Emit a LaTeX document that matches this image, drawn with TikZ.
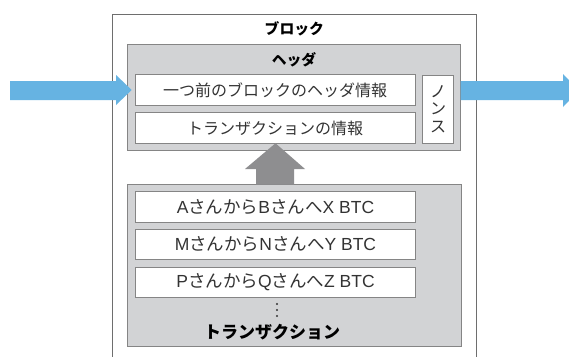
\documentclass[tikz,border=0pt]{standalone}
\usepackage{fontspec}
\setmainfont{Noto Sans CJK JP}
\newfontfamily\lat{Liberation Sans}
\definecolor{boxgray}{HTML}{D2D3D5}
\definecolor{boxline}{HTML}{858585}
\definecolor{frameline}{HTML}{6E6E6E}
\definecolor{arrowblue}{HTML}{66B3E2}
\definecolor{arrowgray}{HTML}{8E8E90}
\definecolor{txtcol}{HTML}{333333}
\begin{document}
\begin{tikzpicture}[x=1pt,y=-1pt,
  every node/.style={inner sep=0pt, outer sep=0pt},
  frame/.style={draw=frameline, line width=1pt},
  graybox/.style={draw=boxline, fill=boxgray, line width=1pt},
  whitebox/.style={draw=boxline, fill=white, line width=1pt},
  rowbox/.style={whitebox, minimum width=280pt, minimum height=30.5pt, txt},
  txt/.style={font=\fontsize{16}{18}\selectfont, text=txtcol},
  txrow/.style={rowbox, font=\fontsize{17.5}{19}\selectfont},
  ttl/.style={font=\fontsize{14.8}{17}\selectfont\bfseries, text=black}]
\useasboundingbox (0,0) rectangle (569,356);
\fill[white] (0,0) rectangle (569,356);
% outer block
\draw[frame] (112.7,358) -- (112.7,14.3) -- (476,14.3) -- (476,358);
\node[ttl] (blk) at (294.3,28.5) {ブロック};
% header
\node[graybox, minimum width=333pt, minimum height=106pt] (hdr) at (294.2,97.2) {};
\node[ttl] (hdrt) at (294,60) {ヘッダ};
\node[rowbox] (prev) at (275,90) {一つ前のブロックのヘッダ情報};
\node[rowbox] (txi) at (275,128) {トランザクションの情報};
\node[whitebox, minimum width=30.5pt, minimum height=68pt, txt, align=center,
      font=\fontsize{16}{17.5}\selectfont] (nonce) at (438.2,109) {ノ\\ン\\ス};
% transactions
\node[graybox, minimum width=334pt, minimum height=162pt] (txb) at (294,265) {};
\node[txrow] (ta) at (275.5,207) {{\lat A}さんから{\lat B}さんへ{\lat X BTC}};
\node[txrow] (tm) at (275.5,244.5) {{\lat M}さんから{\lat N}さんへ{\lat Y BTC}};
\node[txrow] (tp) at (275.5,282.5) {{\lat P}さんから{\lat Q}さんへ{\lat Z BTC}};
\foreach \yy in {304,310,316} \fill[txtcol] (277,\yy) circle (1.1pt);
\node[ttl, font=\fontsize{17}{19}\selectfont\bfseries] (txt) at (272,332) {トランザクション};
% arrows
\coordinate (lt) at (131.7,90);
\fill[arrowblue] (10,81) -- (116,81) -- (116,75) -- (lt) -- (116,105) -- (116,100) -- (10,100) -- cycle;
\coordinate (rs) at (hdr.east |- 0,81);
\fill[arrowblue] (rs) -- (563,81) -- (563,74) -- (579,90.5) -- (563,107) -- (563,100) -- (rs |- 0,100) -- cycle;
\coordinate (ut) at (txi.south -| 275.5,0);
\fill[arrowgray] (ut) -- (305,169) -- (294,169) -- (294,184.5) -- (256,184.5) -- (256,169) -- (245,169) -- cycle;
\end{tikzpicture}
\end{document}
